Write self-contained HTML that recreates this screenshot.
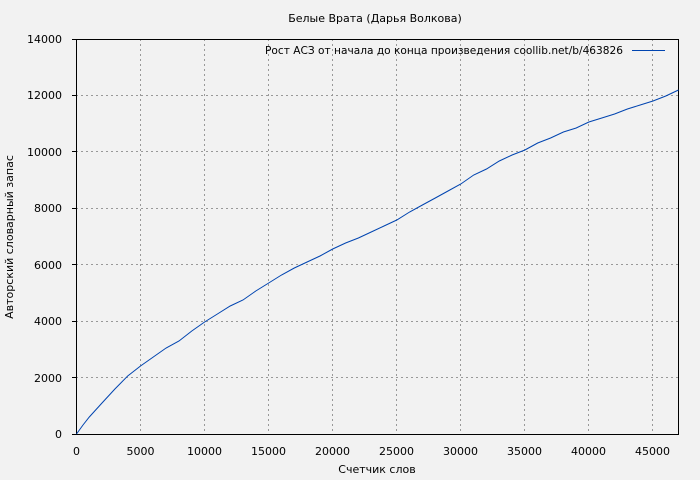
<!DOCTYPE html>
<html><head><meta charset="utf-8"><style>
html,body{margin:0;padding:0;background:#f2f2f2}
svg{display:block}
text{font-family:"DejaVu Sans","Liberation Sans",sans-serif;font-size:11px;fill:#000}
</style></head><body>
<svg width="700" height="480" viewBox="0 0 700 480">
<rect width="700" height="480" fill="#f2f2f2"/>
<text x="375" y="22" text-anchor="middle">Белые Врата (Дарья Волкова)</text>
<g stroke="#999" stroke-width="1" stroke-dasharray="2,3">
<line x1="140.5" y1="39" x2="140.5" y2="434"/>
<line x1="204.5" y1="39" x2="204.5" y2="434"/>
<line x1="268.5" y1="39" x2="268.5" y2="434"/>
<line x1="332.5" y1="39" x2="332.5" y2="434"/>
<line x1="396.5" y1="39" x2="396.5" y2="434"/>
<line x1="460.5" y1="39" x2="460.5" y2="434"/>
<line x1="524.5" y1="39" x2="524.5" y2="434"/>
<line x1="588.5" y1="39" x2="588.5" y2="434"/>
<line x1="652.5" y1="39" x2="652.5" y2="434"/>
<line x1="76" y1="377.5" x2="678" y2="377.5"/>
<line x1="76" y1="321.5" x2="678" y2="321.5"/>
<line x1="76" y1="264.5" x2="678" y2="264.5"/>
<line x1="76" y1="208.5" x2="678" y2="208.5"/>
<line x1="76" y1="151.5" x2="678" y2="151.5"/>
<line x1="76" y1="95.5" x2="678" y2="95.5"/>
</g>
<rect x="76.5" y="39.5" width="602" height="395" fill="none" stroke="#000"/>
<g stroke="#000">
<line x1="72" y1="434.5" x2="76" y2="434.5"/><line x1="72" y1="377.5" x2="76" y2="377.5"/><line x1="72" y1="321.5" x2="76" y2="321.5"/><line x1="72" y1="264.5" x2="76" y2="264.5"/><line x1="72" y1="208.5" x2="76" y2="208.5"/><line x1="72" y1="151.5" x2="76" y2="151.5"/><line x1="72" y1="95.5" x2="76" y2="95.5"/><line x1="72" y1="39.5" x2="76" y2="39.5"/>
</g>
<g text-anchor="end">
<text x="62" y="438">0</text><text x="62" y="382">2000</text><text x="62" y="325">4000</text><text x="62" y="269">6000</text><text x="62" y="212">8000</text><text x="62" y="156">10000</text><text x="62" y="99">12000</text><text x="62" y="43">14000</text>
</g>
<g text-anchor="middle">
<text x="76.5" y="455">0</text><text x="140.5" y="455">5000</text><text x="204.5" y="455">10000</text><text x="268.5" y="455">15000</text><text x="332.5" y="455">20000</text><text x="396.5" y="455">25000</text><text x="460.5" y="455">30000</text><text x="524.5" y="455">35000</text><text x="588.5" y="455">40000</text><text x="652.5" y="455">45000</text>
</g>
<text x="377" y="473" text-anchor="middle">Счетчик слов</text>
<text transform="translate(13,237) rotate(-90)" text-anchor="middle">Авторский словарный запас</text>
<text x="623" y="54" text-anchor="end" textLength="358" lengthAdjust="spacingAndGlyphs">Рост АСЗ от начала до конца произведения  coollib.net/b/463826</text>
<line x1="632" y1="50.5" x2="665" y2="50.5" stroke="#0044b0" stroke-width="1"/>
<polyline fill="none" stroke="#0044b0" stroke-width="1" points="76.5,434 83,425 89.3,417 102,403 114.9,389 127.7,376 140.5,366 153.3,357 166.1,348 179,341 191.8,331 204.6,322 217.4,314 230.2,306 243,300 255.8,291 268.7,283 281.5,275 294.3,268 307.1,262 320,256 332.7,249 345.6,243 358.4,238 371.2,232 384,226 396.8,220 409.6,212 422.4,205 435.3,198 448,191 460.8,184 473.7,175 486.5,169 499.3,161 512.1,155 524.9,150 537.7,143 550.6,138 563.4,132 576.2,128 588.9,122 601.8,118 614.6,114 627.4,109 640.2,105 653,101 665.8,96 678.5,90"/>
</svg>
</body></html>
